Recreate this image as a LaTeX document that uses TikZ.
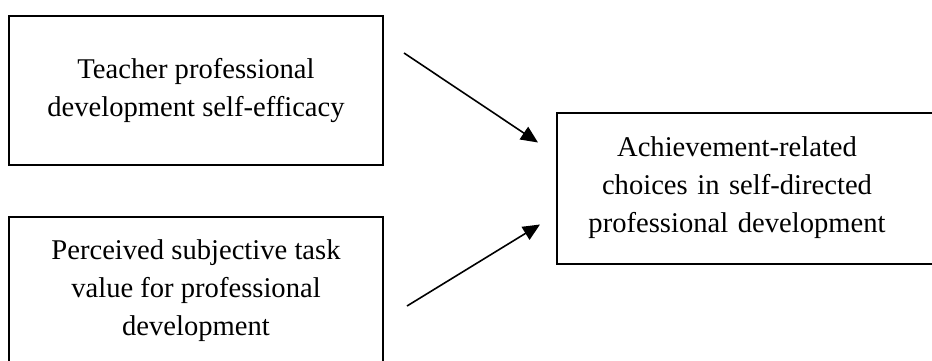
\documentclass[tikz,border=0pt]{standalone}
\usepackage{fontspec}
\setmainfont{Liberation Serif}
\usetikzlibrary{arrows.meta, positioning, calc}

\tikzset{
    varbox/.style={draw, line width=1pt, inner sep=0pt, minimum width=187pt, minimum height=74.5pt,
        align=center, font=\fontsize{14.3}{19}\selectfont},
    link/.style={-{Triangle[length=8.5pt,width=7.5pt]}, line width=0.8pt},
}

\begin{document}
\begin{tikzpicture}[x=0.5pt, y=-0.5pt]
    \useasboundingbox (0,0) rectangle (932,360);

    % Predictor boxes
    \node[varbox] (efficacy) at (196,90.5) {Teacher professional\\development self-efficacy};
    \node[varbox] (value) at (196,291) {Perceived subjective task\\value for professional\\development};

    % Outcome box (runs off the right edge)
    \node[varbox, draw=none, minimum width=0pt, text width=179pt] (choices) at (737,188)
        {Achievement-related\\choices in self-directed\\professional development};
    \draw[line width=1pt] (choices.north west) rectangle ([xshift=20pt]choices.south east);

    % Arrows
    \draw[link] ([shift={(20,38)}]efficacy.north east) -- ([shift={(-19,30)}]choices.north west);
    \draw[link] ([shift={(23,15)}]value.east) -- ([shift={(-17,-39)}]choices.south west);
\end{tikzpicture}
\end{document}
